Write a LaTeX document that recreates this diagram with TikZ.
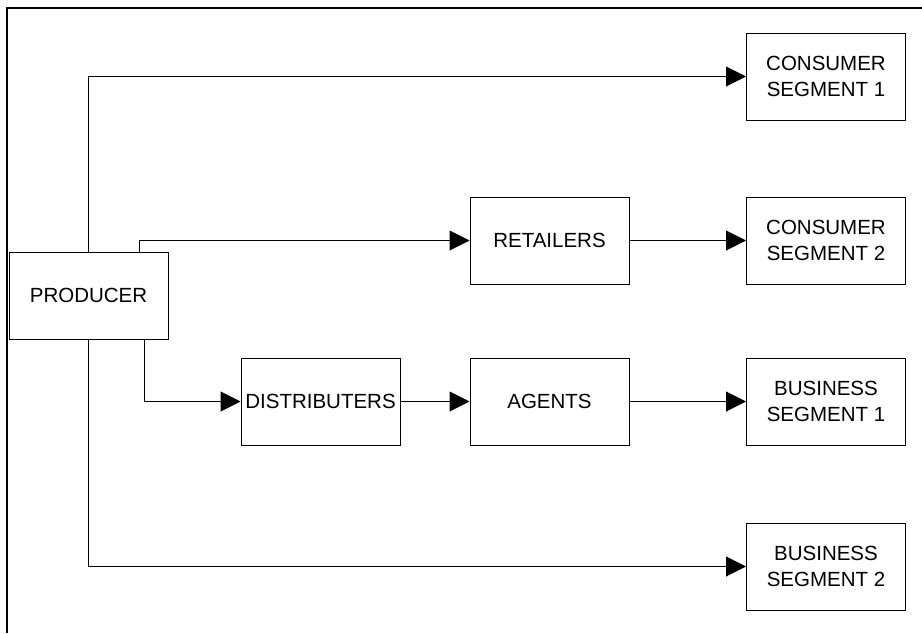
\documentclass[tikz,border=0pt]{standalone}
\usepackage{fontspec}
\setmainfont{Liberation Sans}
\usepackage{tikz}
\usetikzlibrary{arrows.meta, positioning, calc}
\tikzset{
	chanbox/.style={draw=black, line width=1pt, fill=white, minimum width=159pt, minimum height=87pt, inner sep=0pt, align=center, font=\fontsize{20.5}{26}\selectfont},
	flow/.style={draw=black, line width=1pt, -{Triangle[length=20pt, width=20pt]}}
}
\begin{document}
\begin{tikzpicture}[x=1pt, y=-1pt]
		\useasboundingbox (0,0) rectangle (922,633);
		\draw[line width=2.5pt] (7,633) -- (7,8) -- (922,8);
		\pgfmathsetmacro{\colsegx}{826}
		\pgfmathsetmacro{\colmidx}{549.5}
		\node[chanbox] (producer) at (88.5,295.5) {PRODUCER};
		\node[chanbox] (consone) at (\colsegx,76.5) {CONSUMER\\SEGMENT 1};
		\node[chanbox] (retailers) at (\colmidx,240.5) {RETAILERS};
		\node[chanbox] (constwo) at (\colsegx,240.5) {CONSUMER\\SEGMENT 2};
		\node[chanbox] (distributers) at (320.5,401.5) {DISTRIBUTERS};
		\node[chanbox] (agents) at (\colmidx,401.5) {AGENTS};
		\node[chanbox] (busone) at (\colsegx,401.5) {BUSINESS\\SEGMENT 1};
		\node[chanbox] (bustwo) at (\colsegx,566.5) {BUSINESS\\SEGMENT 2};
		
		\draw[flow] (producer.north) |- (consone.west);
		\draw[flow] ([xshift=-29pt]producer.north east) |- (retailers.west);
		\draw[flow] ([xshift=-24pt]producer.south east) |- (distributers.west);
		\draw[flow] (producer.south) |- (bustwo.west);
		\draw[flow] (retailers) -- (constwo);
		\draw[flow] (distributers) -- (agents);
		\draw[flow] (agents) -- (busone);
		\end{tikzpicture}
\end{document}
